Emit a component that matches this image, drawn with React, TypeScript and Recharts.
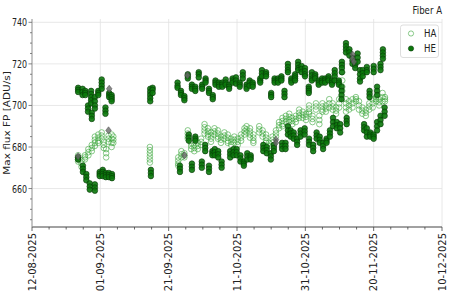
import React from "react";
import { ScatterChart, Scatter, XAxis, YAxis, CartesianGrid } from "recharts";

// day 0 = 12-08-2025
const xTicks = [0, 5, 10, 15, 20, 25, 30, 35, 40, 45, 50, 55, 60, 65, 70, 75, 80, 85, 90, 95, 100, 105, 110, 115, 120];
const xMajor = [0, 20, 40, 60, 80, 100, 120];
const yTicks = [645, 650, 655, 660, 665, 670, 675, 680, 685, 690, 695, 700, 705, 710, 715, 720, 725, 730, 735, 740];
const yMajor = [660, 680, 700, 720, 740];
const yDomain = [641.5, 741.6];

// each row: [day, flux, flux, ...]
const haNights: number[][] = [
  [13.5, 676, 675, 674, 673],
  [14.5, 673.5, 672, 670.5],
  [15.5, 676, 675, 674],
  [16.5, 679, 677.5, 676],
  [17.5, 681, 679.5, 678],
  [18.4, 685, 683.5, 682, 680.5],
  [19.4, 686, 684.5, 683, 682],
  [20.4, 687, 685.5, 684],
  [21.0, 682.5, 681, 679.5],
  [21.7, 679, 677, 675],
  [22.4, 685.5, 684, 682.5],
  [23.3, 686, 684, 682, 680],
  [23.8, 685, 683.5, 682],
  [34.5, 680, 678.5, 677, 675.5, 674, 672.5],
  [42.8, 675, 673.5, 672, 671],
  [43.7, 678, 676.5, 675],
  [44.6, 677, 676, 675],
  [45.6, 688, 686.5, 685, 684],
  [46.6, 682, 680.5, 679],
  [47.5, 681, 679.5, 678],
  [48.5, 682, 680.5, 679],
  [49.5, 684, 682.5, 681],
  [50.5, 691, 689.5, 688, 686.5],
  [51.5, 689, 687.5, 686, 685],
  [52.4, 687, 685.5, 684, 682.5],
  [53.4, 689, 687.5, 686],
  [54.4, 688, 686.5, 685, 684],
  [55.3, 685, 683.5, 682],
  [56.3, 687, 685.5, 684],
  [57.3, 686, 684.5, 683, 682],
  [58.3, 684, 682.5, 681],
  [59.2, 685, 683.5, 682],
  [60.2, 684, 682.5, 681],
  [61.2, 686, 684.5, 683],
  [62.2, 689, 687.5, 686],
  [62.8, 690, 688.5, 687],
  [63.8, 689, 687.5, 686, 684.5],
  [64.8, 686, 684.5, 683, 682],
  [66.5, 690, 688.5, 687],
  [67.5, 688, 686.5, 685],
  [68.5, 686, 684.5, 683, 682],
  [69.4, 682, 680.5, 679],
  [70.4, 685, 683.5, 682],
  [71.4, 688, 686.5, 685],
  [72.3, 692, 690.5, 689],
  [73.3, 694, 692.5, 691, 690],
  [74.3, 695, 693.5, 692],
  [75.3, 696, 694.5, 693, 692],
  [76.2, 694, 692.5, 691],
  [77.2, 695, 693.5, 692],
  [78.2, 698, 696.5, 695, 694],
  [79.2, 697, 695.5, 694],
  [80.2, 696, 694.5, 693],
  [81.1, 700, 698.5, 697, 696],
  [82.1, 695, 693.5, 692],
  [83.1, 701, 699.5, 698],
  [84.1, 695, 693, 691],
  [85.0, 701, 699.5, 698, 697],
  [86.0, 700, 698.5, 697],
  [87.0, 703, 701, 699],
  [88.0, 701, 699.5, 698],
  [89.0, 699, 697.5, 696],
  [89.9, 703, 701, 699],
  [90.8, 716, 712, 709, 707],
  [91.9, 703, 701, 699, 697],
  [92.8, 702, 700, 698],
  [93.8, 703, 701, 699],
  [94.8, 704, 703, 702],
  [95.7, 702, 700, 698],
  [96.7, 699, 697.5, 696],
  [97.7, 698, 696.5, 695],
  [98.7, 701, 699.5, 698],
  [99.7, 703, 701, 699],
  [100.7, 704, 703, 702],
  [101.6, 703, 701.5, 700],
  [102.6, 706, 704, 702],
  [103.3, 704, 703, 702],
];

const heNights: number[][] = [
  [13.5, 708.5, 707.5, 706.5],
  [14.8, 708, 706.5, 705],
  [15.6, 707, 706, 705],
  [16.4, 700, 698.5, 697],
  [17.3, 707, 705.5, 704, 702.5, 701],
  [17.5, 696.5, 695, 693.5],
  [18.4, 704, 702, 700, 698.5],
  [19.4, 707, 706, 705],
  [20.4, 712.5, 711, 709.5, 708],
  [21.5, 699, 697.5, 696],
  [22.6, 706, 705, 704],
  [23.3, 705, 704, 703, 702],
  [13.5, 675, 674],
  [14.9, 671, 669.5, 668],
  [15.9, 667, 665.5, 664],
  [16.9, 662.5, 661, 659.5],
  [18.4, 662, 660.5, 659],
  [19.8, 668, 667, 666],
  [20.7, 669, 668, 667, 666],
  [21.6, 667.5, 666.5, 665.5],
  [22.5, 667.5, 666.5, 665.5],
  [23.4, 667, 666, 665],
  [34.6, 708, 706.5, 705, 703.5, 702],
  [35.3, 708.5, 707.5, 706],
  [34.8, 669, 667.5, 666],
  [42.6, 711, 709.5, 708.5],
  [43.6, 707, 706, 705],
  [44.6, 704.5, 703.5, 702.5],
  [45.6, 715, 714, 713],
  [46.8, 710, 709, 708],
  [47.8, 709, 708, 707],
  [48.8, 716, 715, 713.5],
  [49.8, 710, 709, 708],
  [50.8, 713, 712, 711],
  [51.8, 708, 707, 706],
  [52.9, 705, 704, 703],
  [53.7, 712, 711, 710],
  [54.7, 711, 710, 709],
  [55.7, 711, 710, 709],
  [56.7, 712.5, 711, 710],
  [57.7, 710, 709, 708],
  [58.7, 713, 712, 711],
  [59.7, 713.5, 712, 710.5],
  [60.8, 711, 710, 709],
  [61.7, 716, 714.5, 713],
  [62.8, 710, 709, 708],
  [63.7, 712, 711, 709.5],
  [64.6, 711, 710, 709],
  [66.8, 713, 712, 711],
  [67.3, 717, 715.5, 714],
  [68.5, 716, 715, 714],
  [70.0, 706, 705, 704],
  [71.0, 713, 712, 711],
  [72.0, 713, 712, 711],
  [73.0, 714, 713, 712],
  [73.9, 707, 705.5, 704],
  [74.9, 720, 718.5, 717, 716],
  [75.9, 713, 712, 711],
  [77.0, 715, 714, 713, 712],
  [77.9, 721, 719.5, 718, 717],
  [78.9, 719, 717.5, 716],
  [79.9, 718, 716.5, 715, 714],
  [81.0, 709, 708, 707, 706],
  [81.9, 716, 714.5, 713, 712],
  [82.9, 715, 714, 713],
  [83.9, 712, 711, 710],
  [84.9, 713, 712, 711],
  [85.8, 713, 712, 711],
  [86.8, 714, 713, 712],
  [87.8, 712, 711, 710],
  [88.6, 717, 715.5, 714, 712],
  [89.8, 712, 711, 710],
  [90.7, 721, 719.5, 718, 716],
  [91.9, 730, 728.5, 727, 725.5],
  [92.9, 727, 725.5, 724],
  [93.8, 723, 721.5, 720],
  [94.6, 721, 719.5, 718],
  [95.3, 725, 723, 721],
  [96.0, 717, 715, 713, 711.5],
  [96.8, 717, 715.5, 714],
  [98.0, 718.5, 717, 716],
  [100.0, 719, 717.5, 716],
  [102.0, 720, 718.5, 717],
  [102.7, 727, 725.5, 724, 722.5],
  [43.3, 671, 669.5, 668],
  [45.9, 686, 684.5, 683],
  [46.8, 672, 670.5, 669],
  [47.8, 685, 684, 683],
  [49.7, 673, 671.5, 670],
  [50.7, 681, 679.5, 678],
  [51.8, 671, 669.5, 668],
  [52.8, 678, 677, 676],
  [53.5, 679, 677.5, 676],
  [54.5, 678, 676.5, 675],
  [55.5, 673, 671.5, 670],
  [58.0, 678, 676.5, 675],
  [59.0, 679, 677.5, 676],
  [59.9, 679, 677.5, 676],
  [61.0, 676, 674.5, 673],
  [62.0, 673, 672, 671],
  [63.0, 677, 675.5, 674],
  [64.0, 676, 675, 674],
  [67.7, 681, 679.5, 678],
  [68.7, 680, 678.5, 677],
  [69.9, 677, 675.5, 674],
  [70.8, 681, 679.5, 678],
  [73.2, 682, 680.5, 679],
  [74.2, 682, 680.5, 679],
  [74.9, 690, 688, 686],
  [75.7, 688, 686.5, 685],
  [76.6, 687, 685.5, 684],
  [77.6, 684, 682.5, 681],
  [78.6, 688, 686.5, 685],
  [79.8, 689, 687.5, 686],
  [81.1, 684, 682.5, 681],
  [82.3, 681, 679.5, 678],
  [83.3, 687, 685.5, 684],
  [84.2, 685, 683.5, 682],
  [85.2, 682, 680.5, 679],
  [86.2, 684, 683, 682],
  [87.2, 688, 686.5, 685],
  [88.1, 694, 692, 690],
  [89.2, 692, 690.5, 689],
  [90.2, 691, 689, 687],
  [90.6, 709, 707, 705, 703],
  [92.1, 694, 692.5, 691],
  [97.2, 691, 689.5, 688],
  [98.0, 689, 687, 685],
  [99.0, 687, 686, 685],
  [100.0, 686, 685, 684],
  [101.0, 692, 690, 688],
  [102.0, 695, 693, 691],
  [103.2, 699, 697, 695],
  [98.8, 707, 705.5, 704],
  [101.0, 709, 707, 705],
];

// flagged points (grey)
const flagNights: number[][] = [
  [13.5, 675.5],
  [22.6, 708],
  [22.4, 688],
  [44.6, 676],
  [45.5, 714.5],
  [71.4, 683.5, 682],
  [93.8, 724.5, 722.5],
  [94.2, 721],
];

const toPoints = (rows: number[][]) =>
  rows.flatMap((r) => r.slice(1).map((v) => ({ d: r[0], v })));

const haData = toPoints(haNights);
const heData = toPoints(heNights);
const flagData = toPoints(flagNights);

const fmtDate = (d: number) => {
  const dt = new Date(Date.UTC(2025, 7, 12 + d));
  const dd = String(dt.getUTCDate()).padStart(2, "0");
  const mm = String(dt.getUTCMonth() + 1).padStart(2, "0");
  return `${dd}-${mm}-${dt.getUTCFullYear()}`;
};

const FONT = "DejaVu Sans";

const XTick = (props: any) => {
  const { x, y, payload } = props;
  const major = xMajor.includes(payload.value);
  return (
    <g transform={`translate(${x},${y})`}>
      <line x1={0} y1={0} x2={0} y2={major ? 4 : 2.5} stroke="#444" strokeWidth={0.8} />
      {major && (
        <text
          transform="translate(0,6) rotate(-90)"
          textAnchor="end"
          dominantBaseline="central"
          fontSize={10}
          fontFamily={FONT}
          fill="#222"
        >
          {fmtDate(payload.value)}
        </text>
      )}
    </g>
  );
};

const YTick = (props: any) => {
  const { x, y, payload } = props;
  const major = yMajor.includes(payload.value);
  return (
    <g transform={`translate(${x},${y})`}>
      <line x1={0} y1={0} x2={major ? -3.5 : -2} y2={0} stroke="#666" strokeWidth={0.8} />
      {major && (
        <text
          transform="translate(-5,0) scale(0.72,1)"
          textAnchor="end"
          dominantBaseline="central"
          fontSize={11}
          fontFamily={FONT}
          fill="#222"
        >
          {payload.value}
        </text>
      )}
    </g>
  );
};

const HaDot = (p: any) => (
  <circle cx={p.cx} cy={p.cy} r={2.8} fill="none" stroke="#3aa63a" strokeOpacity={0.75} strokeWidth={0.8} />
);
const HeDot = (p: any) => (
  <circle cx={p.cx} cy={p.cy} r={2.8} fill="#0b780b" fillOpacity={0.9} stroke="#063806" strokeWidth={0.6} />
);
const FlagDot = (p: any) => (
  <polygon
    points={`${p.cx},${p.cy - 3.6} ${p.cx + 2.8},${p.cy} ${p.cx},${p.cy + 3.6} ${p.cx - 2.8},${p.cy}`}
    fill="#6a6a6a"
    fillOpacity={0.8}
    stroke="#444"
    strokeWidth={0.5}
  />
);

export default function App() {
  return (
    <div style={{ position: "absolute", left: 0, top: 0, width: 450, height: 300, background: "#fff" }}>
      <ScatterChart width={450} height={300} margin={{ top: 19, right: 8, bottom: 0, left: 0 }}>
        <CartesianGrid stroke="#e2e2e2" strokeWidth={0.8} verticalValues={xMajor} horizontalValues={yMajor} />
        <XAxis
          dataKey="d"
          type="number"
          domain={[0, 120]}
          allowDataOverflow
          ticks={xTicks}
          interval={0}
          height={73}
          tickSize={0}
          tickMargin={0}
          tickLine={false}
          axisLine={{ stroke: "#444" }}
          tick={<XTick />}
        />
        <YAxis
          dataKey="v"
          type="number"
          domain={yDomain}
          allowDataOverflow
          ticks={yTicks}
          interval={0}
          width={32}
          tickSize={0}
          tickMargin={0}
          tickLine={false}
          axisLine={{ stroke: "#999" }}
          tick={<YTick />}
        />
        <XAxis
          xAxisId="top"
          orientation="top"
          type="number"
          domain={[0, 120]}
          height={0}
          tick={false}
          tickLine={false}
          axisLine={{ stroke: "#333" }}
        />
        <YAxis
          yAxisId="right"
          orientation="right"
          type="number"
          domain={yDomain}
          width={0}
          tick={false}
          tickLine={false}
          axisLine={{ stroke: "#333" }}
        />
        <Scatter name="HA" data={haData} shape={<HaDot />} isAnimationActive={false} />
        <Scatter name="HE" data={heData} shape={<HeDot />} isAnimationActive={false} />
        <Scatter name="flag" data={flagData} shape={<FlagDot />} isAnimationActive={false} />
      </ScatterChart>
      <svg width={450} height={300} style={{ position: "absolute", left: 0, top: 0, pointerEvents: "none" }}>
        <text
          transform="translate(442,14) scale(0.78,1)"
          textAnchor="end"
          fontSize={11}
          fontFamily={FONT}
          fill="#222"
        >
          Fiber A
        </text>
        <text
          transform="translate(7,123) scale(0.8,1) rotate(-90)"
          textAnchor="middle"
          dominantBaseline="central"
          fontSize={10.5}
          fontFamily={FONT}
          fill="#222"
        >
          Max flux FP [ADU/s]
        </text>
        <rect x={400.5} y={25} width={38} height={32.5} rx={2.5} fill="#fff" fillOpacity={0.85} stroke="#d6d6d6" strokeWidth={0.8} />
        <circle cx={411} cy={33.5} r={2.6} fill="none" stroke="#3aa63a" strokeOpacity={0.75} strokeWidth={0.8} />
        <circle cx={411} cy={48.5} r={2.6} fill="#0b780b" stroke="#063806" strokeWidth={0.6} />
        <text transform="translate(424,33.5) scale(0.78,1)" dominantBaseline="central" fontSize={11} fontFamily={FONT} fill="#222">
          HA
        </text>
        <text transform="translate(424,48.5) scale(0.78,1)" dominantBaseline="central" fontSize={11} fontFamily={FONT} fill="#222">
          HE
        </text>
      </svg>
    </div>
  );
}
